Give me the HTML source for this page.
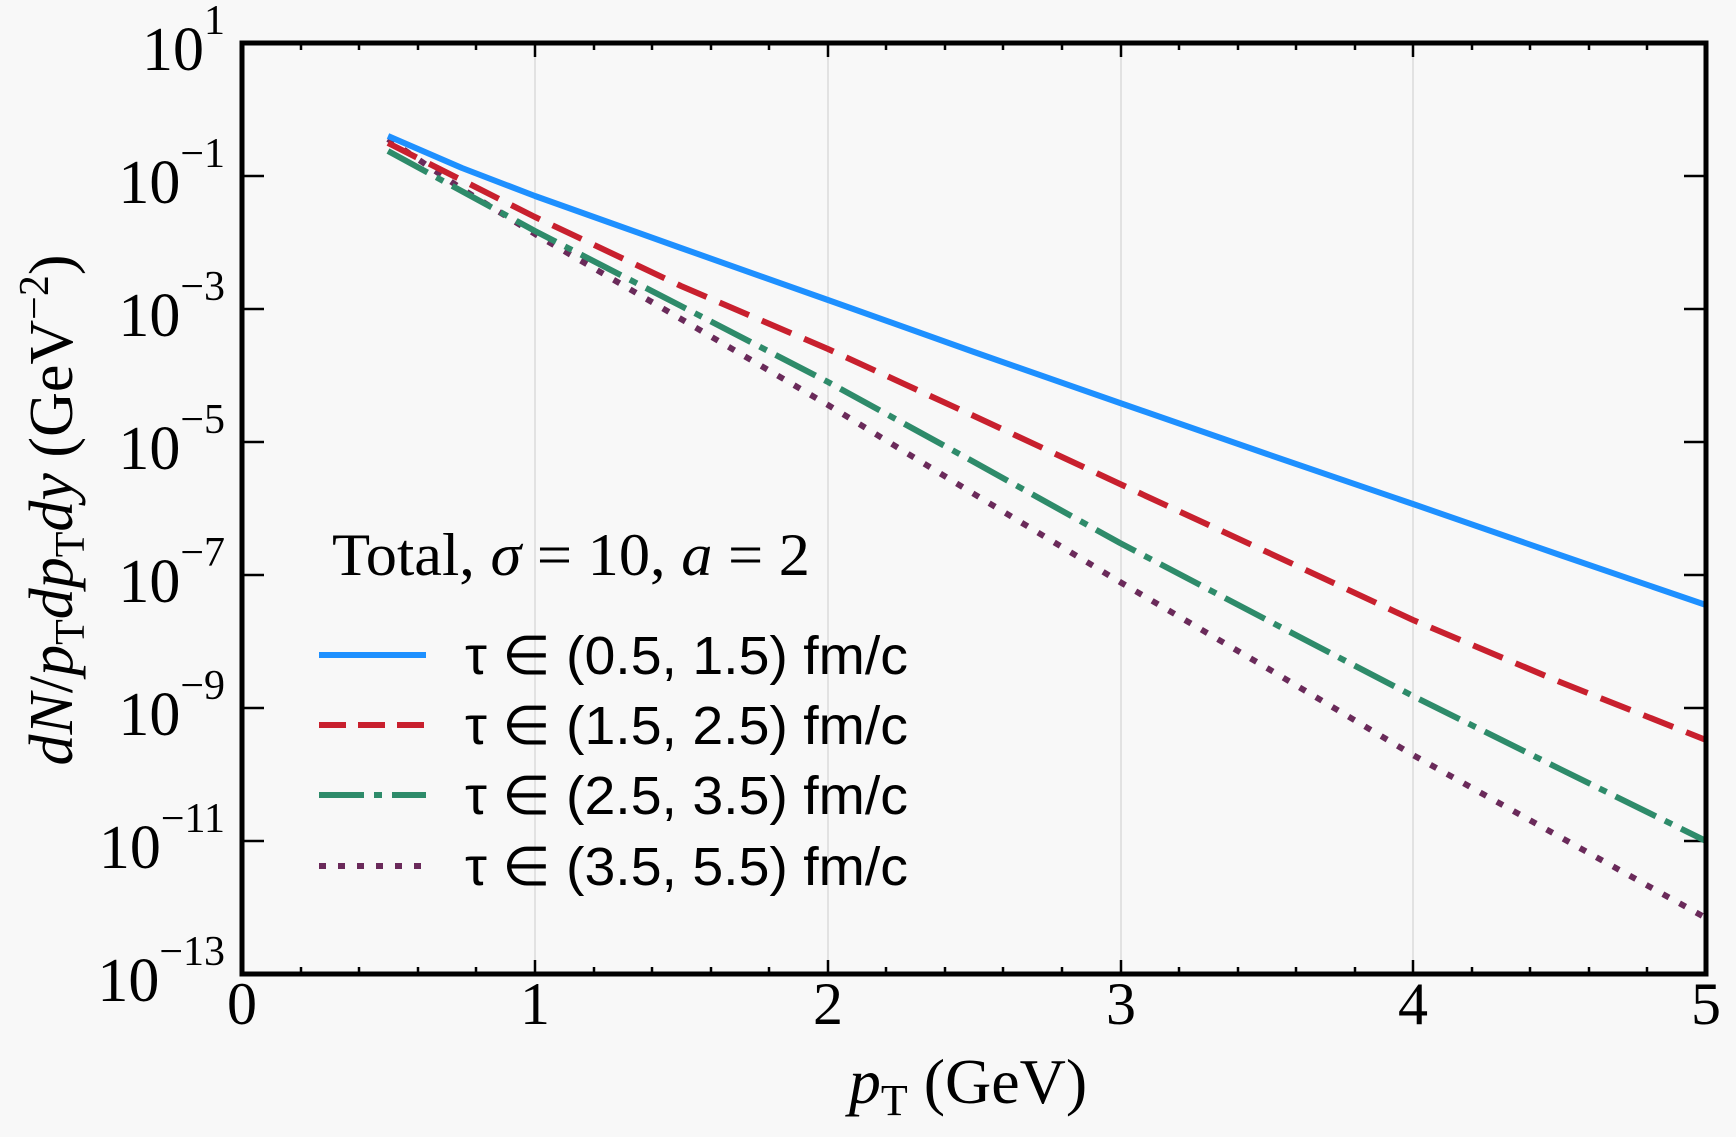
<!DOCTYPE html>
<html><head><meta charset="utf-8"><style>html,body{margin:0;padding:0;background:#f8f8f8}</style></head>
<body>
<svg width="1736" height="1132" viewBox="0 0 1736 1132" xmlns="http://www.w3.org/2000/svg">
<rect width="1736" height="1132" fill="#f8f8f8"/>
<g stroke="#e2e2e2" stroke-width="2">
<line x1="535" y1="43" x2="535" y2="974"/><line x1="828" y1="43" x2="828" y2="974"/>
<line x1="1121" y1="43" x2="1121" y2="974"/><line x1="1413" y1="43" x2="1413" y2="974"/>
</g>
<g stroke="#000" stroke-width="2.5">
<path d="M242 176h22M242 309h22M242 442h22M242 575h22M242 708h22M242 841h22M1706 176h-22M1706 309h-22M1706 442h-22M1706 575h-22M1706 708h-22M1706 841h-22"/>
<path d="M535 974v-14M828 974v-14M1121 974v-14M1413 974v-14M535 43v14M828 43v14M1121 43v14M1413 43v14"/>
<path d="M301 974v-7M359 974v-7M418 974v-7M476 974v-7M594 974v-7M652 974v-7M711 974v-7M769 974v-7M886 974v-7M945 974v-7M1003 974v-7M1062 974v-7M1179 974v-7M1238 974v-7M1296 974v-7M1355 974v-7M1472 974v-7M1530 974v-7M1589 974v-7M1647 974v-7"/>
<path d="M301 43v7M359 43v7M418 43v7M476 43v7M594 43v7M652 43v7M711 43v7M769 43v7M886 43v7M945 43v7M1003 43v7M1062 43v7M1179 43v7M1238 43v7M1296 43v7M1355 43v7M1472 43v7M1530 43v7M1589 43v7M1647 43v7"/>
</g>
<g fill="none" stroke-width="6" stroke-linejoin="round">
<polyline stroke="#6a2a5a" stroke-dasharray="7 12" points="388,139 462,189 535,234 681,319 828,405 974,494 1120,582 1267,668 1413,755 1560,837 1706,918"/>
<polyline stroke="#2e8b6a" stroke-dasharray="45 10 8 10" points="388,151 535,231 681,306 828,382 974,462 1120,543 1267,620 1413,696 1560,769 1706,841"/>
<polyline stroke="#c8202e" stroke-dasharray="32 14" points="388,143 535,217 681,286 828,349 974,416 1120,484 1267,552 1413,620 1560,682 1706,740"/>
<polyline stroke="#1e90ff" points="388,136 462,168 535,196 608,222 681,248 828,300 974,352 1120,403 1267,454 1413,504 1560,555 1706,605"/>
</g>
<rect x="242" y="43" width="1464" height="931" fill="none" stroke="#000" stroke-width="5"/>
<g font-family="Liberation Serif, serif" fill="#000">
<g font-size="62" text-anchor="end">
<text x="225" y="70">10<tspan font-size="42" dy="-36">1</tspan></text>
<text x="225" y="203">10<tspan font-size="42" dy="-36">−1</tspan></text>
<text x="225" y="336">10<tspan font-size="42" dy="-36">−3</tspan></text>
<text x="225" y="469">10<tspan font-size="42" dy="-36">−5</tspan></text>
<text x="225" y="602">10<tspan font-size="42" dy="-36">−7</tspan></text>
<text x="225" y="735">10<tspan font-size="42" dy="-36">−9</tspan></text>
<text x="225" y="868">10<tspan font-size="42" dy="-36">−11</tspan></text>
<text x="225" y="1001">10<tspan font-size="42" dy="-36">−13</tspan></text>
</g>
<g font-size="60" text-anchor="middle">
<text x="242" y="1024">0</text><text x="535" y="1024">1</text><text x="828" y="1024">2</text><text x="1121" y="1024">3</text><text x="1413" y="1024">4</text><text x="1706" y="1024">5</text>
</g>
<text x="968" y="1103" font-size="64" text-anchor="middle"><tspan font-style="italic">p</tspan><tspan font-size="44" dy="12">T</tspan><tspan dy="-12"> (GeV)</tspan></text>
<text transform="translate(72,510) rotate(-90)" font-size="62" text-anchor="middle"><tspan font-style="italic">dN</tspan>/<tspan font-style="italic">p</tspan><tspan font-size="42" dy="12">T</tspan><tspan dy="-12" font-style="italic">dp</tspan><tspan font-size="42" dy="12">T</tspan><tspan dy="-12" font-style="italic">dy</tspan> (GeV<tspan font-size="42" dy="-24">−2</tspan><tspan dy="24">)</tspan></text>
<text x="332" y="575" font-size="60" textLength="478" lengthAdjust="spacingAndGlyphs">Total, <tspan font-style="italic">σ</tspan> = 10, <tspan font-style="italic">a</tspan> = 2</text>
</g>
<g fill="none" stroke-width="6">
<line x1="319" y1="655" x2="426" y2="655" stroke="#1e90ff"/>
<line x1="319" y1="725" x2="426" y2="725" stroke="#c8202e" stroke-dasharray="27 12"/>
<line x1="319" y1="795" x2="426" y2="795" stroke="#2e8b6a" stroke-dasharray="45 10 8 10"/>
<line x1="319" y1="866" x2="426" y2="866" stroke="#6a2a5a" stroke-dasharray="7 12"/>
</g>
<g font-family="Liberation Sans, sans-serif" font-size="54" fill="#000">
<text x="465" y="674" textLength="443" lengthAdjust="spacingAndGlyphs">τ ∈ (0.5, 1.5) fm/c</text>
<text x="465" y="744" textLength="443" lengthAdjust="spacingAndGlyphs">τ ∈ (1.5, 2.5) fm/c</text>
<text x="465" y="814" textLength="443" lengthAdjust="spacingAndGlyphs">τ ∈ (2.5, 3.5) fm/c</text>
<text x="465" y="885" textLength="443" lengthAdjust="spacingAndGlyphs">τ ∈ (3.5, 5.5) fm/c</text>
</g>
</svg>
</body></html>
